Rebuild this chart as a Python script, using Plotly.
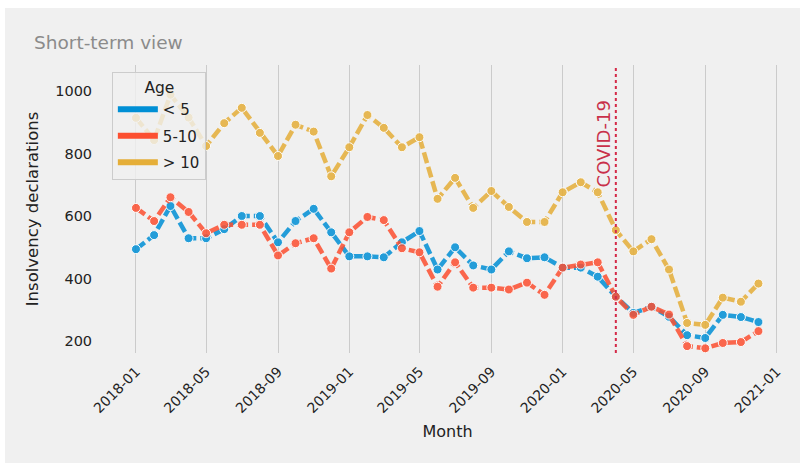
import plotly.graph_objects as go
import pandas as pd

months = pd.date_range("2018-01-01", "2020-12-01", freq="MS").strftime("%Y-%m-%d").tolist()

under_5 = [494, 539, 632, 529, 529, 558, 600, 600, 516, 584, 623, 548,
           471, 471, 468, 516, 552, 429, 500, 442, 429, 487, 465, 468,
           435, 435, 406, 342, 290, 310, 278, 219, 210, 284, 277, 261]
age_5_10 = [626, 584, 660, 613, 545, 572, 572, 572, 474, 513, 529, 432,
            548, 597, 587, 497, 484, 374, 452, 371, 371, 365, 387, 348,
            435, 445, 452, 342, 284, 310, 285, 184, 177, 194, 197, 232]
over_10 = [914, 843, 988, 915, 824, 897, 946, 866, 792, 892, 870, 727,
           820, 923, 882, 820, 852, 655, 722, 626, 680, 629, 581, 581,
           676, 708, 676, 555, 487, 526, 429, 258, 252, 339, 326, 384]

series_names = ["&lt; 5", "5-10", "&gt; 10"]
series_values = [under_5, age_5_10, over_10]
colors = ["#008fd5", "#fc4f30", "#e5ae38"]

tick_vals = ["2018-01-01", "2018-05-01", "2018-09-01", "2019-01-01", "2019-05-01",
             "2019-09-01", "2020-01-01", "2020-05-01", "2020-09-01", "2021-01-01"]
y_ticks = [200, 400, 600, 800, 1000]
covid_date = "2020-04-01"

FONT = "DejaVu Sans"
fig = go.Figure()

for name, vals, col in zip(series_names, series_values, colors):
    fig.add_trace(go.Scatter(
        x=months, y=vals, mode="lines+markers", showlegend=False, name=name,
        line=dict(color=col, width=4.5, dash="11px,4px"),
        marker=dict(color=col, size=9, line=dict(color="white", width=1)),
        opacity=0.85,
    ))
for i, (name, col) in enumerate(zip(series_names, colors)):
    fig.add_trace(go.Scatter(
        x=[None], y=[None], mode="lines", name=name, legendgroup=f"g{i}",
        line=dict(color=col, width=6),
    ))

fig.add_shape(type="rect", xref="paper", yref="paper",
              x0=(5 - 105) / 685, x1=(800 - 105) / 685,
              y0=(353 - 463) / 288, y1=(353 - 8) / 288,
              fillcolor="#f0f0f0", line=dict(width=0), layer="below")

fig.add_shape(type="line", xref="x", yref="paper", x0=covid_date, x1=covid_date,
              y0=0, y1=1, line=dict(color="#d42a48", width=2, dash="dot"))
fig.add_annotation(x=covid_date, y=830, xref="x", yref="y", text="COVID-19",
                   textangle=-90, showarrow=False, xanchor="right", yanchor="middle",
                   xshift=0, font=dict(family=FONT, size=18, color="#c9304a"))

fig.update_layout(
    width=800, height=463,
    paper_bgcolor="white", plot_bgcolor="#f0f0f0",
    margin=dict(l=105, r=10, t=65, b=110),
    font=dict(family=FONT, size=14, color="#222222"),
    title=dict(text="Short-term view", xref="container", yref="container",
               x=34 / 800, y=1 - 43 / 463, xanchor="left", yanchor="middle",
               font=dict(family=FONT, size=18.5, color="#8b8b8b")),
    legend=dict(
        title=dict(text="&nbsp;&nbsp;&nbsp;&nbsp;&nbsp;&nbsp;Age", side="top",
                   font=dict(size=15.5, color="#222")),
        x=0.01, y=0.976, xanchor="left", yanchor="top",
        bgcolor="rgba(240,240,240,0.8)", bordercolor="#cccccc", borderwidth=1,
        font=dict(size=15), itemwidth=40, tracegroupgap=4,
    ),
    showlegend=True,
)
fig.update_xaxes(
    range=["2017-11-09", "2021-01-24"],
    tickvals=tick_vals, tickformat="%Y-%m", tickangle=-45,
    showgrid=True, gridcolor="#cbcbcb", gridwidth=1, zeroline=False,
    ticks="outside", ticklen=4, tickcolor="rgba(0,0,0,0)",
    tickfont=dict(size=14, color="#222"),
    title=dict(text="Month", font=dict(size=16, color="#222"), standoff=10),
    showline=False,
)
fig.update_yaxes(
    range=[162, 1083], tickvals=y_ticks,
    showgrid=False, zeroline=False,
    ticks="outside", ticklen=9, tickcolor="rgba(0,0,0,0)",
    tickfont=dict(size=14.5, color="#222"),
    title=dict(text="Insolvency declarations", font=dict(size=16.5, color="#222"), standoff=12),
    showline=False,
)

fig.write_html("out.html", config={"displayModeBar": False},
               post_script="document.body.style.margin='0';document.body.style.overflow='hidden';")
